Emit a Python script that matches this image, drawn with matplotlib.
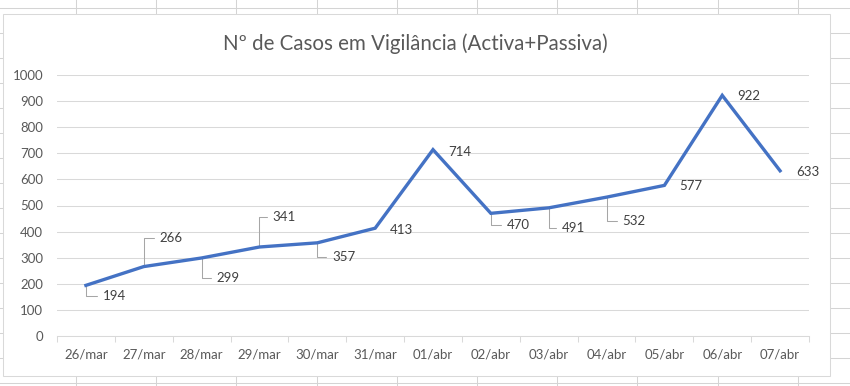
import numpy as np
import matplotlib
matplotlib.use('Agg')
import matplotlib.pyplot as plt
from matplotlib.lines import Line2D
from matplotlib.patches import Rectangle

plt.rcParams['font.family'] = ['Lato', 'DejaVu Sans']

dates = ['26/mar', '27/mar', '28/mar', '29/mar', '30/mar', '31/mar', '01/abr',
         '02/abr', '03/abr', '04/abr', '05/abr', '06/abr', '07/abr']
casos = [194, 266, 299, 341, 357, 413, 714, 470, 491, 532, 577, 922, 633]
titulo = 'Nº de Casos em Vigilância (Activa+Passiva)'

# label placement in pixels (dx to left edge, dy), and whether Excel drew a leader line
label_dx = [17, 16, 15, 13, 15, 15, 15, 16, 13, 16, 15, 15, 16]
label_dy = [-11, 29, -20, 30, -14, -2, -2, -12, -20, -24, -1, -1, -1]
leader = [True, True, True, True, True, False, False, True, True, True, False, False, False]

W, H = 850, 386
fig = plt.figure(figsize=(8.5, 3.86), dpi=100)

# spreadsheet cells behind the chart
grid_c = '#d4d4d4'
for px in np.arange(76, W, 80.2):
    fig.add_artist(Line2D([px / W, px / W], [0, 1], color=grid_c, lw=0.75, zorder=0))
for py in np.arange(8, H, 25):
    fig.add_artist(Line2D([0, 1], [1 - py / H, 1 - py / H], color=grid_c, lw=0.75, zorder=0))

# chart area
fig.add_artist(Rectangle((3 / W, 1 - 376 / H), (830 - 3) / W, (376 - 14) / H,
                         facecolor='white', edgecolor='#d9d9d9', lw=0.75, zorder=1))

ax = fig.add_axes([57 / W, 50 / H, (809 - 57) / W, (336 - 75) / H])
ax.set_facecolor('none')
ax.set_zorder(2)

x = np.arange(len(dates))
ax.plot(x, casos, color='#4472C4', lw=2.4, zorder=4, solid_joinstyle='miter')

for i, v in enumerate(casos):
    kw = {}
    if leader[i]:
        kw['arrowprops'] = dict(arrowstyle='-', color='#a6a6a6', lw=0.75,
                                connectionstyle='angle,angleA=0,angleB=90,rad=0',
                                shrinkA=0, shrinkB=0)
    ax.annotate(str(v), xy=(i, v), xytext=(label_dx[i], label_dy[i]),
                textcoords='offset pixels', ha='left', va='center',
                fontsize=9.5, color='#404040', zorder=3,
                bbox=dict(boxstyle='square,pad=0.45', fc='none', ec='none'), **kw)

ax.set_xlim(-0.5, len(dates) - 0.5)
ax.set_ylim(0, 1000)
ax.set_yticks(np.arange(0, 1001, 100))
ax.set_xticks(x)
ax.set_xticklabels(dates)
ax.set_xticks(np.arange(-0.5, len(dates), 1), minor=True)
ax.grid(axis='y', color='#d9d9d9', lw=0.75)
ax.set_axisbelow(True)
for s in ['top', 'right', 'left']:
    ax.spines[s].set_visible(False)
ax.spines['bottom'].set_color('#d9d9d9')
ax.spines['bottom'].set_linewidth(0.75)
ax.tick_params(axis='y', length=0, pad=10, labelsize=9.5, labelcolor='#595959')
ax.tick_params(axis='x', which='major', length=0, pad=9, labelsize=9.5, labelcolor='#595959')
ax.tick_params(axis='x', which='minor', length=4, width=0.75, color='#d9d9d9')

fig.text(415 / W, 1 - 44 / H, titulo, ha='center', va='center',
         fontsize=14.8, color='#595959')

fig.savefig('out.png', dpi=100)
